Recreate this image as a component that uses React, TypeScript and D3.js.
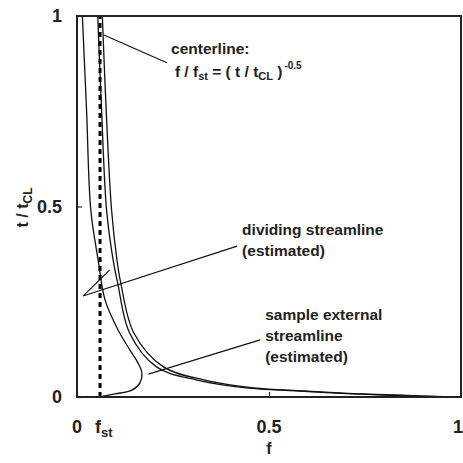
import React, { useEffect, useRef } from "react";
import * as d3 from "d3";

// stoichiometric mixture fraction
const fst = 0.06;

// sample external streamline (estimated)
const externalF = [0.014, 0.025, 0.036, 0.055, 0.073, 0.107, 0.138, 0.159, 0.169, 0.164, 0.143, 0.099, 0.06];
const externalT = [1.0, 0.75, 0.49, 0.36, 0.255, 0.176, 0.123, 0.089, 0.063, 0.037, 0.018, 0.008, 0];

// the two close curves (centerline / dividing streamline)
const pairT = [1, 0.753, 0.491, 0.36, 0.299, 0.168, 0.079, 0.045, 0.024, 0.016, 0.009, 0.004, 0];
const innerF = [0.054, 0.064, 0.077, 0.094, 0.106, 0.137, 0.207, 0.31, 0.44, 0.57, 0.7, 0.84, 0.97];
const outerF = [0.066, 0.076, 0.09, 0.104, 0.114, 0.148, 0.225, 0.33, 0.46, 0.59, 0.72, 0.86, 0.98];

const xTicks = [0, 0.5, 1];
const yTicks = [0, 0.5, 1];

const FONT = "'Liberation Sans', Arial, Helvetica, sans-serif";

export default function App() {
  const svgRef = useRef<SVGSVGElement>(null);

  useEffect(() => {
    const W = 463, H = 463;
    const M = { left: 77, top: 16, right: 2, bottom: 66 };
    const w = W - M.left - M.right;
    const h = H - M.top - M.bottom;

    const svg = d3.select(svgRef.current);
    svg.selectAll("*").remove();
    svg.attr("width", W).attr("height", H);

    const g = svg.append("g").attr("transform", `translate(${M.left},${M.top})`);

    const x = d3.scaleLinear().domain([0, 1]).range([0, w]);
    const y = d3.scaleLinear().domain([0, 1]).range([h, 0]);

    const line = d3
      .line<[number, number]>()
      .x((d) => x(d[0]))
      .y((d) => y(d[1]))
      .curve(d3.curveCatmullRom.alpha(0.5));

    const ext = externalF.map((f, i) => [f, externalT[i]] as [number, number]);
    const inner = innerF.map((f, i) => [f, pairT[i]] as [number, number]);
    const outer = outerF.map((f, i) => [f, pairT[i]] as [number, number]);

    [ext, inner, outer].forEach((pts) => {
      g.append("path")
        .attr("d", line(pts))
        .attr("fill", "none")
        .attr("stroke", "#111")
        .attr("stroke-width", 1.3);
    });

    // stoichiometric line
    g.append("line")
      .attr("x1", x(fst)).attr("x2", x(fst))
      .attr("y1", y(0)).attr("y2", y(1))
      .attr("stroke", "#000")
      .attr("stroke-width", 3)
      .attr("stroke-dasharray", "5,4");

    // axes (inward ticks)
    const xAxis = g.append("g").attr("transform", `translate(0,${h})`)
      .call(d3.axisBottom(x).tickValues(xTicks).tickSize(-5).tickFormat(() => ""));
    const yAxis = g.append("g")
      .call(d3.axisLeft(y).tickValues(yTicks).tickSize(-5).tickFormat(() => ""));
    [xAxis, yAxis].forEach((a) => {
      a.select(".domain").remove();
      a.selectAll("line").attr("stroke", "#222").attr("stroke-width", 1.2);
    });

    g.append("rect")
      .attr("width", w).attr("height", h)
      .attr("fill", "none").attr("stroke", "#222").attr("stroke-width", 2);

    // tick labels
    const tickText = g.append("g")
      .attr("font-family", FONT).attr("font-weight", "bold").attr("font-size", 18).attr("fill", "#222");

    tickText.selectAll(".ylab").data(yTicks).join("text")
      .attr("x", -15).attr("y", (d) => y(d) + 6)
      .attr("text-anchor", "end")
      .text((d) => (d === 0.5 ? "0.5" : String(d)));

    tickText.selectAll(".xlab").data(xTicks).join("text")
      .attr("x", (d) => x(d) - (d === 1 ? 3 : 0)).attr("y", h + 36)
      .attr("text-anchor", "middle")
      .text((d) => (d === 0.5 ? "0.5" : String(d)));

    const fstLab = tickText.append("text").attr("x", x(fst) - 5).attr("y", h + 36);
    fstLab.append("tspan").text("f");
    fstLab.append("tspan").attr("dy", 4).attr("font-size", 13).text("st");

    // axis titles
    tickText.append("text")
      .attr("x", x(0.5)).attr("y", h + 57)
      .attr("text-anchor", "middle")
      .attr("font-size", 16)
      .text("f");

    const yTitle = tickText.append("text")
      .attr("transform", `translate(${28 - M.left},${y(0.5) + 1}) rotate(-90)`)
      .attr("text-anchor", "middle")
      .attr("font-size", 16);
    yTitle.append("tspan").text("t / t");
    yTitle.append("tspan").attr("dy", 4).attr("font-size", 12).text("CL");

    // annotations
    const leaders: [number, number][][] = [
      [[0.07, 0.95], [0.234, 0.877]],
      [[0.0846, 0.333], [0.0156, 0.265], [0.417, 0.396]],
      [[0.186, 0.06], [0.477, 0.15]],
    ];
    leaders.forEach((pts) => {
      g.append("path")
        .attr("d", d3.line<[number, number]>().x((d) => x(d[0])).y((d) => y(d[1]))(pts))
        .attr("fill", "none")
        .attr("stroke", "#111")
        .attr("stroke-width", 1.1);
    });

    const note = g.append("g")
      .attr("font-family", FONT).attr("font-weight", "bold").attr("font-size", 15.5).attr("fill", "#222");

    note.append("text").attr("x", x(0.245)).attr("y", y(0.9)).text("centerline:");
    const eq = note.append("text").attr("x", x(0.255)).attr("y", y(0.84));
    eq.append("tspan").text("f / f");
    eq.append("tspan").attr("dy", 3).attr("font-size", 11).text("st");
    eq.append("tspan").attr("dy", -3).text(" = ( t / t");
    eq.append("tspan").attr("dy", 3).attr("font-size", 11).text("CL");
    eq.append("tspan").attr("dy", -3).text(" )");
    eq.append("tspan").attr("dy", -8).attr("dx", 2).attr("font-size", 10).text("-0.5");

    const dividing = ["dividing streamline", "(estimated)"];
    dividing.forEach((s, i) => {
      note.append("text").attr("x", x(0.43)).attr("y", y(0.425) + i * 21).text(s);
    });

    const sample = ["sample external", "streamline", "(estimated)"];
    sample.forEach((s, i) => {
      note.append("text").attr("x", x(0.49)).attr("y", y(0.202) + i * 21).text(s);
    });
  }, []);

  return (
    <svg ref={svgRef} style={{ position: "absolute", left: 0, top: 0, background: "#fff" }}></svg>
  );
}
